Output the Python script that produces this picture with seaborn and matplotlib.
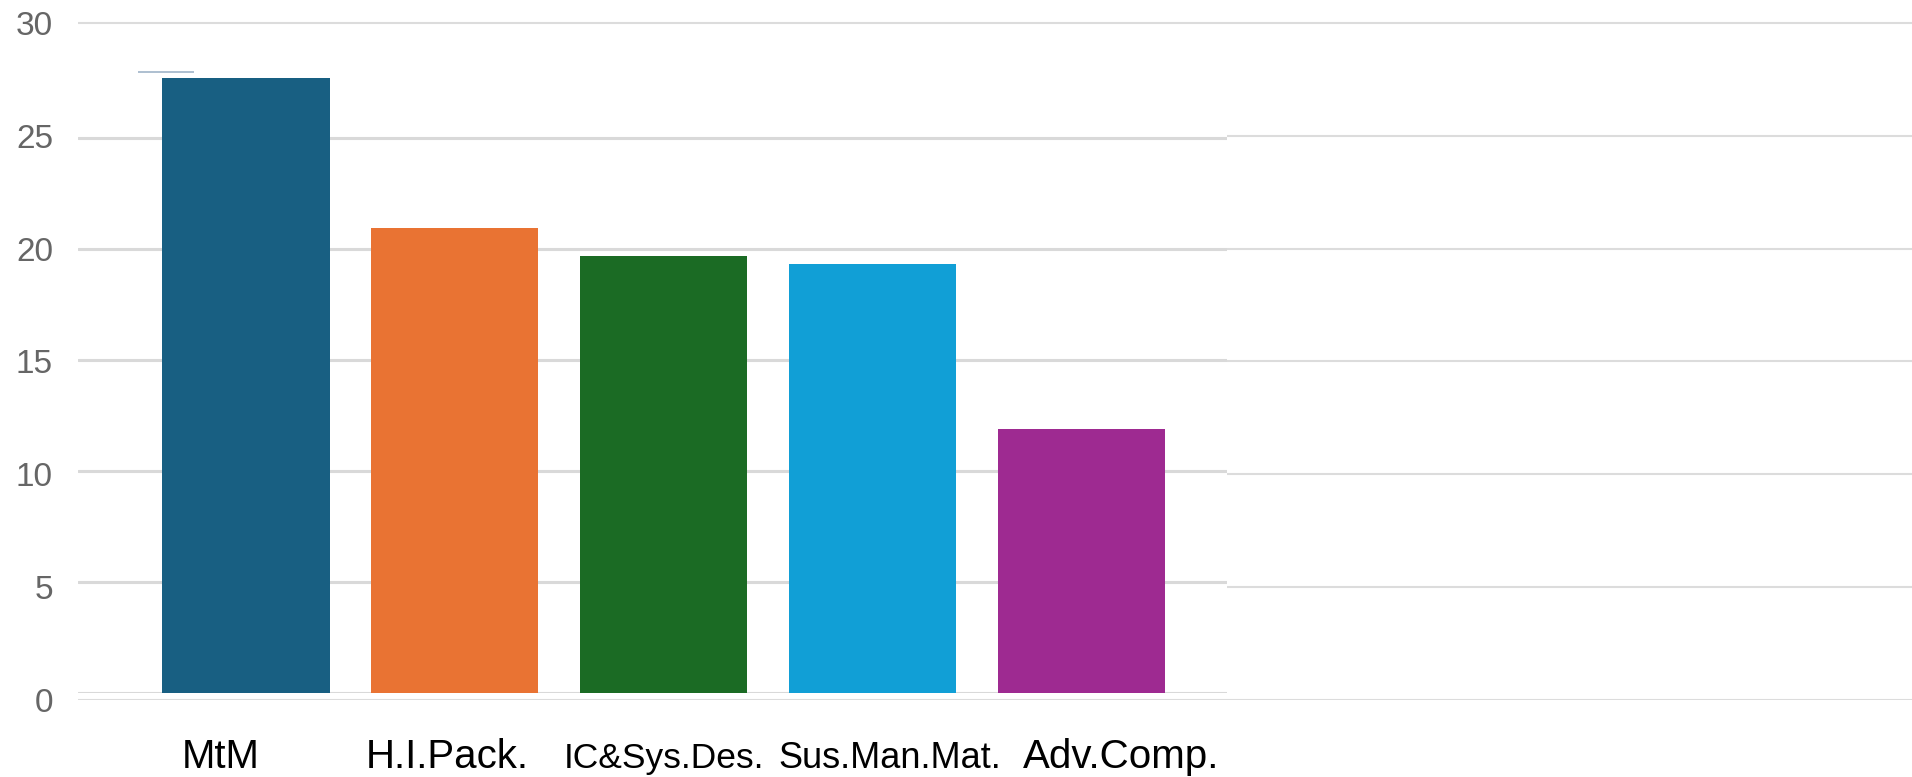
import matplotlib
matplotlib.use('Agg')
import matplotlib.pyplot as plt
import seaborn as sns
import pandas as pd

# chart data
categories = ['MtM', 'H.I.Pack.', 'IC&Sys.Des.', 'Sus.Man.Mat.', 'Adv.Comp.']
values = [27.7, 20.95, 19.7, 19.35, 11.9]
colors = ['#185F82', '#E97333', '#1B6B24', '#119FD6', '#9E2A91']
yticks = [0, 5, 10, 15, 20, 25, 30]
cap_value = [28.0]

sns.set_style('white')
plt.rcParams['font.family'] = ['Liberation Sans', 'DejaVu Sans']

W, H = 1912, 777
fig = plt.figure(figsize=(W / 100, H / 100), dpi=100)

# background grid layer (carries the y tick labels)
ax_bg = fig.add_axes([78 / W, 77 / H, 1 - 78 / W, 688.4 / H], zorder=0)
ax_bg.set_ylim(0, 30.5)
ax_bg.set_yticks(yticks)
ax_bg.set_yticklabels([str(t) for t in yticks], fontsize=24, color='#666666')
ax_bg.tick_params(axis='y', length=0, pad=18)
ax_bg.set_xticks([])
ax_bg.grid(axis='y', color='#dcdcdc', linewidth=1.5)
for s in ax_bg.spines.values():
    s.set_visible(False)

# bar layer on top, white face hides the background grid
ax = fig.add_axes([78 / W, 83.7 / H, 1149 / W, 661.6 / H], zorder=1)
ax.set_facecolor('white')
df = pd.DataFrame({'cat': categories, 'val': values})
sns.barplot(data=df, x='cat', y='val', hue='cat', palette=colors, legend=False,
            width=0.8, saturation=1, linewidth=0, edgecolor='none', ax=ax, zorder=2)
ax.set_ylim(0, 29.8)
ax.set_xlim(-0.804, 4.696)
ax.set_yticks([0, 5, 10, 15, 20, 25])
ax.set_yticklabels([])
ax.grid(axis='y', color='#d9d9d9', linewidth=2.2, zorder=0)
ax.set_axisbelow(True)
for s in ax.spines.values():
    s.set_visible(False)
ax.tick_params(axis='both', length=0)

# small cap line left of the first bar
ax.hlines(cap_value, -0.517, -0.249, color='#9fb4c8', linewidth=1.2, zorder=3)

# x labels (slightly shifted as in the original), baseline aligned
label_offsets = [-0.12, -0.036, 0.0, 0.081, 0.19]
label_sizes = [29, 29, 25.5, 26, 29]
ax.set_xticks([i + o for i, o in enumerate(label_offsets)])
ax.set_xticklabels(categories)
for lab, fs in zip(ax.get_xticklabels(), label_sizes):
    lab.set_fontsize(fs)
    lab.set_color('black')
    lab.set_verticalalignment('baseline')
ax.tick_params(axis='x', pad=54)
ax.set_xlabel('')
ax.set_ylabel('')

fig.savefig('out.png', dpi=100, facecolor='white')
